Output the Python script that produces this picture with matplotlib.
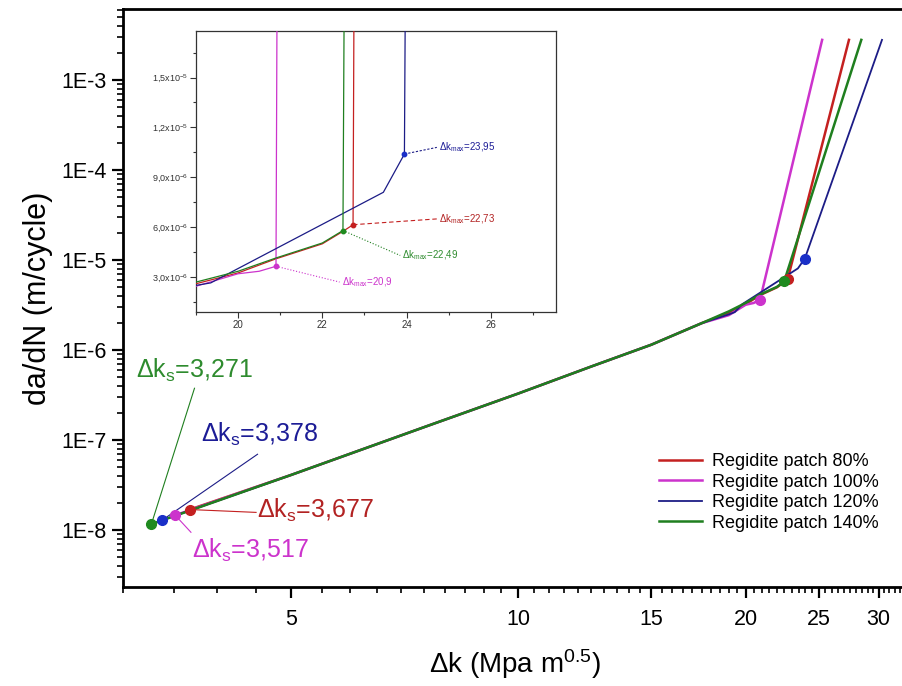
import matplotlib
matplotlib.use('Agg')
import matplotlib.pyplot as plt
from matplotlib.ticker import FixedLocator, FixedFormatter, MultipleLocator, NullFormatter, LogLocator

plt.rcParams['font.family'] = ['Liberation Sans', 'DejaVu Sans']
plt.rcParams['mathtext.fontset'] = 'custom'
plt.rcParams['mathtext.rm'] = 'Liberation Sans'
plt.rcParams['mathtext.it'] = 'Liberation Sans:italic'
plt.rcParams['mathtext.bf'] = 'Liberation Sans:bold'
plt.rcParams['mathtext.default'] = 'regular'

# ---------------- data ----------------
series_labels = ['Regidite patch 80%', 'Regidite patch 100%',
                 'Regidite patch 120%', 'Regidite patch 140%']

red_x = [3.677, 5.0, 7.6, 10.0, 12.5, 15.0, 17.5, 19.0, 20.0, 20.9, 22.0, 22.49, 22.73, 27.4]
red_y = [1.70e-8, 4.1e-8, 1.45e-7, 3.3e-7, 6.6e-7, 1.15e-6, 2.0e-6, 2.6e-6, 3.25e-6,
         4.1e-6, 5.0e-6, 5.75e-6, 6.15e-6, 2.8e-3]

magenta_x = [3.517, 5.0, 7.6, 10.0, 12.5, 15.0, 17.5, 19.0, 20.0, 20.5, 20.9, 25.25]
magenta_y = [1.47e-8, 4.1e-8, 1.45e-7, 3.3e-7, 6.6e-7, 1.15e-6, 2.0e-6, 2.45e-6, 3.2e-6,
             3.35e-6, 3.65e-6, 2.8e-3]

blue_x = [3.378, 5.0, 7.6, 10.0, 12.5, 15.0, 17.5, 19.0, 19.35, 19.8, 23.45, 23.95, 30.3]
blue_y = [1.29e-8, 4.1e-8, 1.45e-7, 3.3e-7, 6.6e-7, 1.15e-6, 2.0e-6, 2.5e-6, 2.65e-6,
          3.25e-6, 8.1e-6, 1.04e-5, 2.8e-3]

green_x = [3.271, 5.0, 7.6, 10.0, 12.5, 15.0, 17.5, 19.0, 20.0, 20.9, 22.0, 22.49, 28.45]
green_y = [1.17e-8, 4.1e-8, 1.45e-7, 3.3e-7, 6.6e-7, 1.15e-6, 2.0e-6, 2.7e-6, 3.35e-6,
           4.15e-6, 5.05e-6, 5.8e-6, 2.8e-3]

dk_s = [3.677, 3.517, 3.378, 3.271]
dk_s_y = [1.70e-8, 1.47e-8, 1.29e-8, 1.17e-8]
dk_s_text = ['3,677', '3,517', '3,378', '3,271']

dk_max = [22.73, 20.9, 23.95, 22.49]
dk_max_y = [6.15e-6, 3.65e-6, 1.04e-5, 5.8e-6]
dk_max_text = ['22,73', '20,9', '23,95', '22,49']

xticks_main = [5, 10, 15, 20, 25, 30]
xtick_labels_main = ['5', '10', '15', '20', '25', '30']
yticks_main = [1e-8, 1e-7, 1e-6, 1e-5, 1e-4, 1e-3]
ytick_labels_main = ['1E-8', '1E-7', '1E-6', '1E-5', '1E-4', '1E-3']

xticks_inset = [20, 22, 24, 26]
xtick_labels_inset = ['20', '22', '24', '26']
yticks_inset = [3e-6, 6e-6, 9e-6, 1.2e-5, 1.5e-5]
ytick_labels_inset = [r'3,0x10$^{-6}$', r'6,0x10$^{-6}$', r'9,0x10$^{-6}$',
                      r'1,2x10$^{-5}$', r'1,5x10$^{-5}$']

colors = ['#C42020', '#CC33CC', '#1C1C86', '#1F7F1F']
dot_colors = ['#C42020', '#CC33CC', '#1A2FC8', '#1F8A1F']
text_colors = ['#B22222', '#CC33CC', '#1C1C96', '#2E8B2E']
line_widths = [1.8, 1.8, 1.3, 1.8]

xs = [red_x, magenta_x, blue_x, green_x]
ys = [red_y, magenta_y, blue_y, green_y]

# ---------------- figure ----------------
W, H = 903, 686
fig = plt.figure(figsize=(W / 100, H / 100), dpi=100)

def fx(px):
    return px / W

def fy(py):
    return 1 - py / H

ax = fig.add_axes([fx(123), fy(587), fx(906) - fx(123), fy(9) - fy(587)])
ax.set_xscale('log')
ax.set_yscale('log')
ax.set_xlim(3.0, 32.6)
ax.set_ylim(10 ** -8.63, 10 ** -2.21)

for i in range(4):
    ax.plot(xs[i], ys[i], color=colors[i], lw=line_widths[i], label=series_labels[i], zorder=3 + i)

for i in range(4):
    ax.plot([dk_s[i]], [dk_s_y[i]], 'o', color=dot_colors[i], ms=7, zorder=10)
    ax.plot([dk_max[i]], [dk_max_y[i]], 'o', color=dot_colors[i], ms=7, zorder=10)

ax.xaxis.set_major_locator(FixedLocator(xticks_main))
ax.xaxis.set_major_formatter(FixedFormatter(xtick_labels_main))
ax.xaxis.set_minor_locator(MultipleLocator(0.5))
ax.xaxis.set_minor_formatter(NullFormatter())
ax.yaxis.set_major_locator(FixedLocator(yticks_main))
ax.yaxis.set_major_formatter(FixedFormatter(ytick_labels_main))
ax.yaxis.set_minor_locator(LogLocator(base=10, subs=range(2, 10), numticks=20))
ax.yaxis.set_minor_formatter(NullFormatter())

ax.tick_params(axis='both', which='major', direction='out', length=8, width=1.6,
               labelsize=15.5, pad=4)
ax.tick_params(axis='both', which='minor', direction='out', length=4.5, width=1.2)
ax.tick_params(axis='x', which='major', pad=8)
ax.tick_params(top=False, right=False, which='both')
for s in ['left', 'bottom', 'top']:
    ax.spines[s].set_linewidth(2.0)
ax.spines['right'].set_visible(False)

ax.set_xlabel('Δk (Mpa m$^{0.5}$)', fontsize=20, labelpad=12)
ax.set_ylabel('da/dN (m/cycle)', fontsize=22, labelpad=6)

leg = ax.legend(loc='upper left', bbox_to_anchor=(0.684, 0.232), frameon=False,
                fontsize=13, handlelength=2.4, handletextpad=0.55,
                labelspacing=0.2, borderaxespad=0, borderpad=0)

# delta k_s annotations (main)
ann_main = [
    # (text pos x, y), leader end (x, y)
    ((4.51, 1.36e-8), (4.50, 1.58e-8)),
    ((3.70, 5.0e-9), (3.69, 9.5e-9)),
    ((3.81, 9.5e-8), (4.52, 6.99e-8)),
    ((3.125, 5.0e-7), (3.73, 3.78e-7)),
]
for i in range(4):
    (tx, ty), (lx, ly) = ann_main[i]
    ax.plot([dk_s[i], lx], [dk_s_y[i], ly], color=colors[i], lw=0.8, zorder=9)
    ax.text(tx, ty, 'Δk$_s$=' + dk_s_text[i], color=text_colors[i], fontsize=18,
            ha='left', va='baseline', zorder=11)

# ---------------- inset ----------------
ax2 = fig.add_axes([fx(196), fy(312), fx(556) - fx(196), fy(31) - fy(312)])
ax2.set_xlim(19.0, 27.55)
ax2.set_ylim(0.9e-6, 1.78e-5)
for i in range(4):
    ax2.plot(xs[i], ys[i], color=colors[i], lw=0.9, zorder=3 + i)
for i in range(4):
    ax2.plot([dk_max[i]], [dk_max_y[i]], 'o', color=dot_colors[i], ms=3.2, zorder=10)

ax2.xaxis.set_major_locator(FixedLocator(xticks_inset))
ax2.xaxis.set_major_formatter(FixedFormatter(xtick_labels_inset))
ax2.xaxis.set_minor_locator(MultipleLocator(1))
ax2.yaxis.set_major_locator(FixedLocator(yticks_inset))
ax2.yaxis.set_major_formatter(FixedFormatter(ytick_labels_inset))
ax2.yaxis.set_minor_locator(MultipleLocator(1.5e-6))
ax2.tick_params(axis='both', which='major', direction='out', length=4, width=0.8,
                labelsize=7, pad=2, colors='#333333')
ax2.tick_params(axis='both', which='minor', direction='out', length=2.5, width=0.8,
                colors='#333333')
ax2.tick_params(axis='y', labelsize=6.5)
for s in ax2.spines.values():
    s.set_linewidth(0.9)
    s.set_color('#333333')

ann_inset = [
    ((24.78, 6.5e-6), '--', (4, 2.5)),
    ((22.46, 2.7e-6), ':', None),
    ((24.77, 1.08e-5), '--', (2, 1.5)),
    ((23.9, 4.3e-6), ':', None),
]
for i in range(4):
    (tx, ty), ls, dashes = ann_inset[i]
    kw = dict(color=colors[i], lw=0.8, zorder=9)
    if dashes is not None:
        ln, = ax2.plot([dk_max[i], tx - 0.05], [dk_max_y[i], ty], linestyle='--', **kw)
        ln.set_dashes(dashes)
    else:
        ax2.plot([dk_max[i], tx - 0.05], [dk_max_y[i], ty], linestyle=':', **kw)
    ax2.text(tx, ty, 'Δk$_{max}$=' + dk_max_text[i], color=text_colors[i], fontsize=7,
             ha='left', va='center', zorder=11)

fig.savefig('out.png', dpi=100)
